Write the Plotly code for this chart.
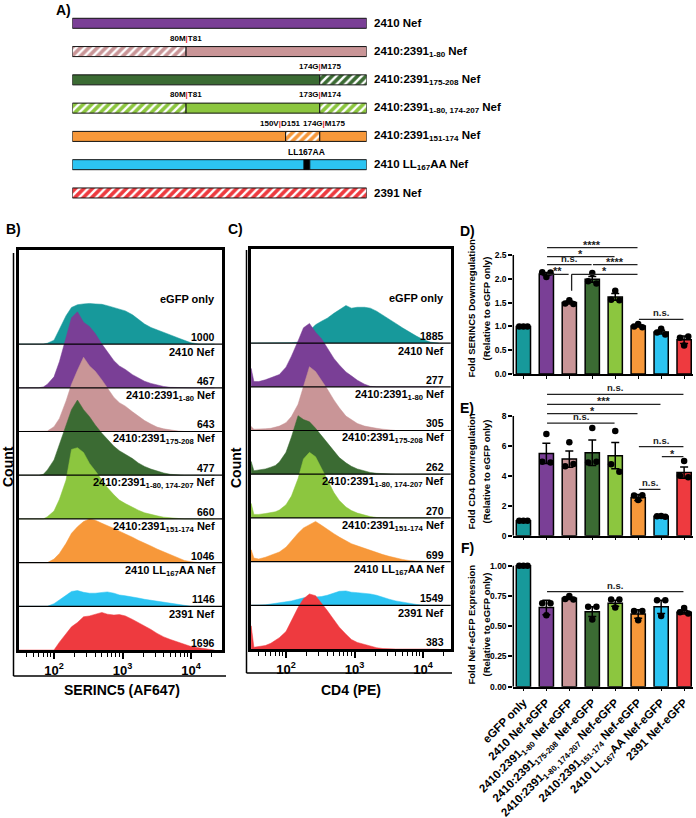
import plotly.graph_objects as go

W, H = 696, 818
FONT = "Liberation Sans, Arial, Helvetica, sans-serif"

COLORS = ['#17999b', '#7a3f96', '#c99597', '#3b6b33', '#8cc63f', '#f7983a', '#2cc4f2', '#ee3a3f']

# ---------------- Panel A : Nef constructs ----------------
NEF_LEN = 207
A_NAMES = ["2410 Nef", "2410:2391<sub>1-80</sub> Nef", "2410:2391<sub>175-208</sub> Nef",
           "2410:2391<sub>1-80, 174-207</sub> Nef", "2410:2391<sub>151-174</sub> Nef",
           "2410 LL<sub>167</sub>AA Nef", "2391 Nef"]
A_COLOR_IDX = [1, 2, 3, 4, 5, 6, 7]
A_SEG_START = [[0], [0, 80], [0, 174], [0, 80, 174], [0, 150, 174], [0, 163, 167], [0]]
A_SEG_END = [[207], [80, 207], [174, 207], [80, 174, 207], [150, 174, 207], [163, 167, 207], [207]]
A_SEG_KIND = [['solid'], ['hatch', 'solid'], ['solid', 'hatch'], ['hatch', 'solid', 'hatch'],
              ['solid', 'hatch', 'solid'], ['solid', 'mutation', 'solid'], ['hatch']]
A_JUNC_ROW = [1, 2, 3, 3, 4, 4]
A_JUNC_POS = [80, 174, 80, 174, 150, 174]
A_JUNC_LEFT = ['80M', '174G', '80M', '173G', '150V', '174G']
A_JUNC_RIGHT = ['T81', 'M175', 'T81', 'M174', 'D151', 'M175']
A_MUT_ROW, A_MUT_POS, A_MUT_LABEL = 5, 165, 'LL167AA'

# ---------------- Panels B / C : flow histograms ----------------
HIST_LABELS = ["eGFP only", "2410 Nef", "2410:2391<sub>1-80</sub> Nef", "2410:2391<sub>175-208</sub> Nef",
               "2410:2391<sub>1-80, 174-207</sub> Nef", "2410:2391<sub>151-174</sub> Nef",
               "2410 LL<sub>167</sub>AA Nef", "2391 Nef"]
B_MFI = [1000, 467, 643, 477, 660, 1046, 1146, 1696]
C_MFI = [1885, 277, 305, 262, 270, 699, 1549, 383]

B_GRID = [30, 40, 50, 60, 70, 80, 100, 120, 150, 180, 220, 270, 330, 400, 500, 600, 750, 900,
          1100, 1400, 1700, 2100, 2600, 3200, 4000, 5000, 6500, 8000, 10000, 13000, 17000, 22000]
B_EGFP = [0, 0, 0, 0, 0, 2, 9, 34, 65, 84, 90, 92, 93, 92, 91, 88, 84, 80, 76, 67, 57, 46, 38, 33, 27, 21, 14, 8, 3, 0, 0, 0]
B_2410 = [0, 0, 0, 0, 2, 8, 25, 60, 115, 160, 174, 150, 140, 124, 100, 82, 62, 50, 42, 30, 22, 15, 10, 6, 3, 1, 0, 0, 0, 0, 0, 0]
B_1_80 = [0, 0, 0, 0, 0, 1, 11, 30, 70, 108, 140, 170, 150, 138, 118, 100, 78, 66, 58, 45, 35, 25, 17, 10, 6, 3, 1, 0, 0, 0, 0, 0]
B_175_208 = [0, 0, 0, 0, 2, 12, 35, 70, 112, 150, 172, 150, 134, 115, 96, 82, 66, 56, 48, 38, 28, 20, 14, 9, 5, 2, 0, 0, 0, 0, 0, 0]
B_1_80_174_207 = [0, 0, 0, 0, 0, 5, 18, 45, 89, 159, 163, 152, 127, 110, 90, 72, 55, 43, 35, 26, 20, 14, 10, 7, 4, 2, 1, 0, 0, 0, 0, 0]
B_151_174 = [0, 0, 0, 0, 0, 0, 8, 21, 44, 67, 82, 94, 100, 97, 90, 85, 78, 72, 66, 58, 51, 45, 38, 31, 25, 19, 11, 5, 2, 0, 0, 0]
B_LL167AA = [0, 0, 0, 0, 0, 0, 6, 14, 25, 34, 36, 32, 30, 30, 31, 33, 30, 26, 24, 22, 19, 16, 14, 11, 9, 7, 4, 2, 0, 0, 0, 0]
B_2391 = [0, 0, 0, 0, 0, 0, 0, 18, 38, 53, 63, 76, 78, 82, 86, 82, 80, 81, 78, 70, 63, 55, 47, 38, 30, 24, 18, 13, 8, 5, 2, 0]

C_GRID = [31, 34, 40, 50, 60, 70, 80, 100, 120, 150, 180, 220, 270, 330, 400, 500, 600, 750, 900,
          1100, 1400, 1700, 2100, 2600, 3200, 4000, 5000, 6500, 8000, 10000, 13000, 17000]
C_EGFP = [0, 0, 0, 0, 0, 0, 0, 0, 1, 2, 8, 28, 42, 50, 57, 68, 76, 86, 80, 82, 82, 80, 73, 64, 56, 45, 35, 24, 16, 8, 2, 0]
C_2410 = [42, 12, 12, 16, 20, 24, 28, 45, 70, 105, 135, 145, 125, 110, 88, 65, 50, 34, 25, 15, 6, 1, 0, 0, 0, 0, 0, 0, 0, 0, 0, 0]
C_1_80 = [9, 3, 3, 4, 5, 7, 10, 18, 32, 60, 100, 146, 135, 116, 95, 70, 52, 33, 24, 16, 10, 7, 5, 3, 1, 0, 0, 0, 0, 0, 0, 0]
C_175_208 = [29, 8, 10, 12, 16, 20, 28, 50, 85, 134, 125, 120, 105, 88, 70, 52, 38, 26, 18, 12, 7, 4, 2, 1, 0, 0, 0, 0, 0, 0, 0, 0]
C_1_80_174_207 = [33, 8, 8, 10, 12, 14, 18, 30, 50, 90, 135, 150, 140, 115, 88, 58, 40, 25, 17, 11, 6, 3, 1, 0, 0, 0, 0, 0, 0, 0, 0, 0]
C_151_174 = [27, 8, 6, 10, 14, 18, 22, 33, 48, 65, 77, 85, 92, 83, 75, 64, 56, 47, 41, 36, 30, 25, 21, 16, 12, 8, 5, 2, 1, 0, 0, 0]
C_LL167AA = [0, 0, 0, 1, 3, 4, 5, 8, 10, 14, 17, 18, 19, 20, 23, 28, 32, 33, 30, 29, 28, 26, 23, 18, 14, 10, 7, 4, 2, 0, 0, 0]
C_2391 = [53, 4, 5, 8, 13, 19, 26, 40, 65, 95, 115, 126, 122, 105, 88, 67, 50, 34, 22, 15, 10, 7, 3, 1, 0, 0, 0, 0, 0, 0, 0, 0]

B_COUNTS = [B_EGFP, B_2410, B_1_80, B_175_208, B_1_80_174_207, B_151_174, B_LL167AA, B_2391]
C_COUNTS = [C_EGFP, C_2410, C_1_80, C_175_208, C_1_80_174_207, C_151_174, C_LL167AA, C_2391]

HIST_TICKS = [100, 1000, 10000]
HIST_TICKTEXT = ["10<sup>2</sup>", "10<sup>3</sup>", "10<sup>4</sup>"]
HIST_MINOR = [40, 50, 60, 70, 80, 90, 200, 300, 400, 500, 600, 700, 800, 900,
              2000, 3000, 4000, 5000, 6000, 7000, 8000, 9000, 20000]

# ---------------- Panels D / E / F : bar charts ----------------
BAR_LABELS = ["eGFP only", "2410 Nef-eGFP", "2410:2391<sub>1-80</sub> Nef-eGFP",
              "2410:2391<sub>175-208</sub> Nef-eGFP", "2410:2391<sub>1-80, 174-207</sub> Nef-eGFP",
              "2410:2391<sub>151-174</sub> Nef-eGFP", "2410 LL<sub>167</sub>AA Nef-eGFP", "2391 Nef-eGFP"]

D_MEAN = [1.0, 2.10, 1.50, 1.99, 1.62, 1.01, 0.88, 0.72]
D_SEM = [0.0, 0.03, 0.03, 0.06, 0.07, 0.02, 0.04, 0.08]
D_POINTS = [[1.0, 1.0, 1.0], [2.14, 2.04, 2.13], [1.48, 1.55, 1.47], [1.95, 2.12, 1.90],
            [1.56, 1.75, 1.55], [1.0, 1.05, 0.98], [0.87, 0.95, 0.83], [0.76, 0.60, 0.79]]
D_TICKS = [0.0, 0.5, 1.0, 1.5, 2.0, 2.5]
D_SIG = [(1, 5, 2.653, '****', None), (1, 4, 2.464, '*', None), (1, 3, 2.296, 'n.s.', None),
         (3, 5, 2.296, '****', None), (1, 2, 2.094, '**', None), (2, 5, 2.094, '*', 1.75),
         (5, 7, 1.149, 'n.s.', None)]

E_MEAN = [1.0, 5.5, 5.12, 5.55, 5.35, 2.55, 1.30, 4.22]
E_SEM = [0.02, 0.68, 0.55, 0.85, 0.88, 0.20, 0.05, 0.38]
E_POINTS = [[1.0, 1.0, 1.0], [4.95, 6.8, 4.9], [4.65, 6.25, 4.8], [4.9, 7.2, 4.95],
            [4.77, 7.0, 4.28], [2.68, 2.38, 2.7], [1.3, 1.32, 1.27], [4.0, 5.0, 3.9]]
E_TICKS = [0, 2, 4, 6, 8]
E_SIG = [(1, 7, 9.45, 'n.s.', None), (1, 6, 8.78, '***', None), (1, 5, 8.16, '*', None),
         (1, 4, 7.53, 'n.s.', None), (5, 7, 5.95, 'n.s.', None), (6, 7, 5.28, '*', None),
         (5, 6, 3.10, 'n.s.', None)]

F_MEAN = [1.0, 0.655, 0.73, 0.62, 0.69, 0.60, 0.66, 0.615]
F_SEM = [0.0, 0.06, 0.01, 0.04, 0.025, 0.035, 0.055, 0.015]
F_POINTS = [[1.0, 1.0, 1.0], [0.69, 0.59, 0.69], [0.725, 0.75, 0.72], [0.66, 0.555, 0.66],
            [0.72, 0.655, 0.72], [0.625, 0.55, 0.625], [0.715, 0.585, 0.715], [0.615, 0.65, 0.605]]
F_TICKS = [0.0, 0.25, 0.5, 0.75, 1.0]
F_SIG = [(1, 7, 0.785, 'n.s.', None)]

# =====================================================================
def xdom(a, b):
    return [a / W, b / W]


def ydom(top, bottom):
    return [1 - bottom / H, 1 - top / H]


def pap(px, py):
    return px / W, 1 - py / H


fig = go.Figure()
annotations = []
shapes = []


def add_text(px, py, text, size, angle=0, xanchor='center', yanchor='middle', color='black'):
    x, y = pap(px, py)
    annotations.append(dict(x=x, y=y, xref='paper', yref='paper', text=text, showarrow=False,
                            textangle=angle, xanchor=xanchor, yanchor=yanchor,
                            font=dict(size=size, family=FONT, color=color, weight='bold')))


# ---------------- Panel A ----------------
for i in range(len(A_NAMES)):
    col = COLORS[A_COLOR_IDX[i]]
    for s, e, kind in zip(A_SEG_START[i], A_SEG_END[i], A_SEG_KIND[i]):
        if kind == 'hatch':
            marker = dict(color=col, line=dict(color='#111', width=1),
                          pattern=dict(shape='/', fgcolor='white', bgcolor=col, size=6,
                                       solidity=0.4, fillmode='replace'))
        elif kind == 'mutation':
            marker = dict(color='black', line=dict(color='black', width=1))
        else:
            marker = dict(color=col, line=dict(color='#111', width=1))
        fig.add_trace(go.Bar(x=[e - s], base=[s], y=[i], orientation='h', width=0.354,
                             marker=marker, xaxis='x', yaxis='y', hoverinfo='skip', cliponaxis=False))
    annotations.append(dict(x=NEF_LEN, y=i, xref='x', yref='y', text=A_NAMES[i], showarrow=False,
                            xanchor='left', yanchor='middle', xshift=5,
                            font=dict(size=11.5, family=FONT, color='black', weight='bold')))

A_JUNC_SHIFT = [0, 0, 0, 0, -5, 4]
for r, p, lt, rt, sh in zip(A_JUNC_ROW, A_JUNC_POS, A_JUNC_LEFT, A_JUNC_RIGHT, A_JUNC_SHIFT):
    annotations.append(dict(x=p, y=r - 0.47, xref='x', yref='y', xshift=sh,
                            text=lt + "<span style='color:#e8262b'>|</span>" + rt, showarrow=False,
                            xanchor='center', yanchor='middle',
                            font=dict(size=8, family=FONT, color='black', weight='bold')))
annotations.append(dict(x=A_MUT_POS, y=A_MUT_ROW - 0.45, xref='x', yref='y', text=A_MUT_LABEL,
                        showarrow=False, xanchor='center', yanchor='middle',
                        font=dict(size=8.5, family=FONT, color='black', weight='bold')))

# ---------------- Panels B / C ----------------
N_ROWS = 8
ROW_UNIT = 100.0
TOP_ROW_H = 2.153
Y_TOP = (N_ROWS - 1) + TOP_ROW_H


def add_hist(grid, counts_list, mfi, xa, ya):
    for k, counts in enumerate(counts_list):
        base = N_ROWS - 1 - k
        xs = [grid[0]] + list(grid) + [grid[-1]]
        ys = [base] + [base + c / ROW_UNIT for c in counts] + [base]
        fig.add_trace(go.Scatter(x=xs, y=ys, mode='lines', fill='toself', fillcolor=COLORS[k],
                                 line=dict(color=COLORS[k], width=0.5), xaxis=xa, yaxis=ya,
                                 hoverinfo='skip'))
        if k == 0:
            name_y, name_shift = base + 1.03, 0
        else:
            name_y, name_shift = base + 1, -8
        annotations.append(dict(x=0.975, y=name_y, xref=xa + ' domain', yref=ya, text=HIST_LABELS[k],
                                showarrow=False, xanchor='right', yanchor='middle', yshift=name_shift,
                                font=dict(size=11, family=FONT, color='black', weight='bold')))
        annotations.append(dict(x=0.975, y=base, xref=xa + ' domain', yref=ya, text=str(mfi[k]),
                                showarrow=False, xanchor='right', yanchor='middle', yshift=7,
                                font=dict(size=10.5, family=FONT, color='black', weight='bold')))
    for b in range(1, N_ROWS):
        shapes.append(dict(type='line', xref=xa + ' domain', yref=ya, x0=0, x1=1, y0=b, y1=b,
                           line=dict(color='black', width=1.2), layer='above'))


add_hist(B_GRID, B_COUNTS, B_MFI, 'x2', 'y2')
add_hist(C_GRID, C_COUNTS, C_MFI, 'x3', 'y3')


def hist_xaxis(dom, rng, anchor):
    return dict(type='log', domain=dom, range=rng, anchor=anchor, automargin=False, showline=True,
                mirror=True, linewidth=3, linecolor='black', showgrid=False, zeroline=False,
                tickvals=HIST_TICKS, ticktext=HIST_TICKTEXT, ticks='outside', ticklen=6,
                tickwidth=1.5, tickcolor='black', tickfont=dict(size=13, family=FONT, weight='bold'),
                minor=dict(tickvals=HIST_MINOR, ticks='outside', ticklen=3.5, tickwidth=1,
                           tickcolor='black', showgrid=False))


def hist_yaxis(dom, anchor):
    return dict(domain=dom, range=[0, Y_TOP], anchor=anchor, automargin=False, showline=True,
                mirror=True, linewidth=3, linecolor='black', showgrid=False, zeroline=False,
                showticklabels=False, ticks='')


# outer L-shaped "Count" axes
for (lx, ty, by, rx) in [(13.5, 253, 676, 226), (246.5, 250, 673, 452)]:
    x0, y0 = pap(lx, ty)
    x1, y1 = pap(lx, by)
    x2, _ = pap(rx, by)
    shapes.append(dict(type='line', xref='paper', yref='paper', x0=x0, x1=x1, y0=y0, y1=y1,
                       line=dict(color='black', width=1.5)))
    shapes.append(dict(type='line', xref='paper', yref='paper', x0=x1, x1=x2, y0=y1, y1=y1,
                       line=dict(color='black', width=1.5)))

add_text(8, 467, "Count", 14, angle=-90)
add_text(236, 467, "Count", 14, angle=-90)
add_text(122, 690, "SERINC5 (AF647)", 14)
add_text(351, 690, "CD4 (PE)", 14)

# ---------------- Panels D / E / F ----------------
JITTER = [-0.18, 0.0, 0.18]
BAR_X_DOM = xdom(513.3, 693.3)
BAR_X_RANGE = [-0.44, 7.4]


def add_barpanel(means, sems, points, sig, xa, ya, ytop):
    cats = list(range(len(means)))
    fig.add_trace(go.Bar(x=cats, y=means, width=0.62, xaxis=xa, yaxis=ya,
                         marker=dict(color=COLORS, line=dict(color='black', width=1.5)),
                         error_y=dict(type='data', array=sems, color='black', thickness=1.5, width=4),
                         hoverinfo='skip'))
    px, py = [], []
    for c, pts in zip(cats, points):
        for j, v in enumerate(pts):
            px.append(c + JITTER[j])
            py.append(v)
    fig.add_trace(go.Scatter(x=px, y=py, mode='markers', xaxis=xa, yaxis=ya, cliponaxis=False,
                             marker=dict(color='black', size=6.5), hoverinfo='skip'))
    shapes.append(dict(type='line', xref=xa + ' domain', yref=ya, x0=0, x1=0, y0=0, y1=ytop,
                       line=dict(color='black', width=1.5)))
    for (i, j, yv, lab, drop) in sig:
        x0 = i + 0.1 if drop is not None else i + 0.03
        x1 = j - 0.03
        shapes.append(dict(type='line', xref=xa, yref=ya, x0=x0, x1=x1, y0=yv, y1=yv,
                           line=dict(color='#222', width=1.3)))
        if drop is not None:
            shapes.append(dict(type='line', xref=xa, yref=ya, x0=x0, x1=x0, y0=yv, y1=drop,
                               line=dict(color='#222', width=1.3)))
        star = lab.startswith('*')
        annotations.append(dict(x=(x0 + x1) / 2, y=yv, xref=xa, yref=ya, text=lab, showarrow=False,
                                xanchor='center', yanchor='bottom', yshift=-5 if star else -1,
                                font=dict(size=11 if star else 9.5, family=FONT, color='#222',
                                          weight='bold')))


def bar_yaxis(px0, ppu, ymax, ticks, fmt, anchor):
    return dict(domain=ydom(px0 - ymax * ppu, px0), range=[0, ymax], anchor=anchor, automargin=False,
                showline=False, showgrid=False, zeroline=False, tickvals=ticks, tickformat=fmt,
                ticks='outside', ticklen=4, tickwidth=1.5, tickcolor='black',
                tickfont=dict(size=8.5, family=FONT, weight='bold'))


def bar_xaxis(anchor, labels):
    d = dict(domain=BAR_X_DOM, range=BAR_X_RANGE, anchor=anchor, automargin=False, showline=True,
             linewidth=1.5, linecolor='black', showgrid=False, zeroline=False,
             tickvals=list(range(8)), ticks='outside', ticklen=3, tickwidth=1.2, tickcolor='black')
    if labels is None:
        d['showticklabels'] = False
    else:
        d.update(ticktext=labels, tickangle=-45, tickfont=dict(size=11.5, family=FONT, weight='bold'))
    return d


add_barpanel(D_MEAN, D_SEM, D_POINTS, D_SIG, 'x4', 'y4', 2.5)
add_barpanel(E_MEAN, E_SEM, E_POINTS, E_SIG, 'x5', 'y5', 8)
add_barpanel(F_MEAN, F_SEM, F_POINTS, F_SIG, 'x6', 'y6', 1.0)

for cy, l1 in [(309, "Fold SERINC5 Downregulation"), (472, "Fold CD4 Downregulation"),
               (625, "Fold Nef-eGFP Expression")]:
    add_text(470.5, cy, l1, 9.5, angle=-90)
    add_text(485.5, cy, "(Relative to eGFP only)", 9.5, angle=-90)

# panel letters
for lab, x, y in [("A)", 63, 10), ("B)", 13, 229), ("C)", 236, 229), ("D)", 467, 231),
                  ("E)", 467, 408), ("F)", 467, 548)]:
    add_text(x, y, lab, 14)

fig.update_layout(
    template='none',
    width=W, height=H, margin=dict(l=0, r=0, t=0, b=0, pad=0), autosize=False,
    paper_bgcolor='white', plot_bgcolor='rgba(0,0,0,0)',
    font=dict(family=FONT, color='black', weight='bold'),
    showlegend=False, barmode='overlay',
    xaxis=dict(domain=xdom(72.3, 366.7), range=[0, NEF_LEN], visible=False, anchor='y', automargin=False),
    yaxis=dict(domain=ydom(9.16, 207.1), range=[6.5, -0.5], visible=False, anchor='x', automargin=False),
    xaxis2=hist_xaxis(xdom(19, 222), [1.489, 4.4526], 'y2'),
    yaxis2=hist_yaxis(ydom(250, 650), 'x2'),
    xaxis3=hist_xaxis(xdom(250.7, 450.7), [1.4847, 4.404], 'y3'),
    yaxis3=hist_yaxis(ydom(249, 649), 'x3'),
    xaxis4=bar_xaxis('y4', None),
    yaxis4=bar_yaxis(374, 47.6, 2.8, D_TICKS, '.1f', 'x4'),
    xaxis5=bar_xaxis('y5', None),
    yaxis5=bar_yaxis(535.7, 14.96, 9.9, E_TICKS, 'd', 'x5'),
    xaxis6=bar_xaxis('y6', BAR_LABELS),
    yaxis6=bar_yaxis(686.7, 121, 1.02, F_TICKS, '.2f', 'x6'),
    annotations=annotations, shapes=shapes,
)

fig.write_html("out.html", config={'displayModeBar': False},
               post_script="document.body.style.margin='0';document.body.style.padding='0';"
                           "document.body.style.overflow='hidden';")
